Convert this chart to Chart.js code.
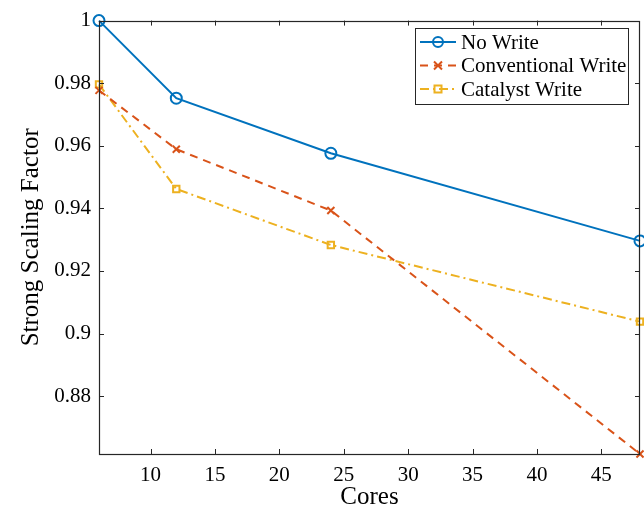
<!DOCTYPE html>
<html>
<head>
<meta charset="utf-8">
<script src="https://cdn.jsdelivr.net/npm/chart.js@4"></script>
<style>
  html, body { margin: 0; padding: 0; background: #fff; }
  #wrap { width: 644px; height: 512px; }
</style>
</head>
<body>
<div id="wrap"><canvas id="chart" width="644" height="512"></canvas></div>
<script>
// values
const cores = [6, 12, 24, 48];
const noWrite = [1.0, 0.9752, 0.9576, 0.9296];
const conventionalWrite = [0.9777, 0.9589, 0.9393, 0.8615];
const catalystWrite = [0.9796, 0.9462, 0.9283, 0.9038];
const xTicks = [10, 15, 20, 25, 30, 35, 40, 45];
const yTicks = [0.88, 0.9, 0.92, 0.94, 0.96, 0.98, 1];

const FONT = "'Liberation Serif', 'DejaVu Serif', serif";
const AXIS = '#262626';

function pts(ys) {
    return cores.map((x, i) => ({ x: x, y: ys[i] }));
}

// axis box with inward ticks on all four sides, MATLAB style
const boxPlugin = {
    id: 'box',
    afterDatasetsDraw(chart) {
        const ctx = chart.ctx;
        const a = chart.chartArea;
        const xs = chart.scales.x, ys = chart.scales.y;
        const len = 5;
        ctx.save();
        ctx.strokeStyle = AXIS;
        ctx.lineWidth = 1;
        ctx.beginPath();
        xs.ticks.forEach((t) => {
            const px = Math.round(xs.getPixelForValue(t.value)) + 0.5;
            ctx.moveTo(px, a.bottom); ctx.lineTo(px, a.bottom - len);
            ctx.moveTo(px, a.top); ctx.lineTo(px, a.top + len);
        });
        ys.ticks.forEach((t) => {
            const py = Math.round(ys.getPixelForValue(t.value)) + 0.5;
            ctx.moveTo(a.left, py); ctx.lineTo(a.left + len, py);
            ctx.moveTo(a.right, py); ctx.lineTo(a.right - len, py);
        });
        ctx.stroke();
        ctx.lineWidth = 1.2;
        ctx.strokeRect(Math.round(a.left) + 0.5, Math.round(a.top) + 0.5,
            Math.round(a.right - a.left) - 1, Math.round(a.bottom - a.top));
        ctx.restore();
    },
};

function drawMarker(ctx, style, x, y) {
    ctx.beginPath();
    if (style === 'circle') {
        ctx.arc(x, y, 5, 0, Math.PI * 2);
    } else if (style === 'rect') {
        ctx.rect(x - 3.5, y - 3.5, 7, 7);
    } else {
        ctx.moveTo(x - 4, y - 4); ctx.lineTo(x + 4, y + 4);
        ctx.moveTo(x + 4, y - 4); ctx.lineTo(x - 4, y + 4);
    }
    ctx.stroke();
}

// legend box drawn from the datasets' own styles
const legendPlugin = {
    id: 'matlabLegend',
    afterDraw(chart) {
        const ctx = chart.ctx;
        const x0 = 415, y0 = 28, w = 213, h = 76;
        ctx.save();
        ctx.fillStyle = '#fff';
        ctx.fillRect(x0, y0, w, h);
        ctx.strokeStyle = AXIS;
        ctx.lineWidth = 1;
        ctx.strokeRect(x0 + 0.5, y0 + 0.5, w, h);
        chart.data.datasets.forEach((ds, i) => {
            const y = y0 + 14 + i * 23.5;
            ctx.strokeStyle = ds.borderColor;
            ctx.lineWidth = 2;
            ctx.setLineDash(ds.borderDash || []);
            ctx.beginPath();
            ctx.moveTo(x0 + 5, y); ctx.lineTo(x0 + 41, y);
            ctx.stroke();
            ctx.setLineDash([]);
            drawMarker(ctx, ds.pointStyle, x0 + 23, y);
            ctx.fillStyle = '#000';
            ctx.font = '21px ' + FONT;
            ctx.textBaseline = 'middle';
            ctx.fillText(ds.label, x0 + 46, y + 1);
        });
        ctx.restore();
    },
};

function fmt(v) {
    return String(parseFloat(v.toFixed(4)));
}

new Chart(document.getElementById('chart'), {
    type: 'line',
    data: {
        datasets: [
            {
                label: 'No Write',
                data: pts(noWrite),
                borderColor: '#0072BD',
                pointStyle: 'circle',
                pointRadius: 5.5,
                pointBorderWidth: 2,
                pointBackgroundColor: 'rgba(0,0,0,0)',
                borderWidth: 2,
            },
            {
                label: 'Conventional Write',
                data: pts(conventionalWrite),
                borderColor: '#D95319',
                borderDash: [8, 6],
                pointStyle: 'crossRot',
                pointRadius: 5,
                pointBorderWidth: 2,
                borderWidth: 2,
            },
            {
                label: 'Catalyst Write',
                data: pts(catalystWrite),
                borderColor: '#EDB120',
                borderDash: [9, 4, 2, 4],
                pointStyle: 'rect',
                pointRadius: 4.5,
                pointBorderWidth: 2,
                pointBackgroundColor: 'rgba(0,0,0,0)',
                borderWidth: 2,
            },
        ],
    },
    options: {
        responsive: false,
        animation: false,
        clip: false,
        layout: { autoPadding: false, padding: { top: 19, right: 4, left: 0, bottom: 0 } },
        elements: { line: { tension: 0 } },
        plugins: {
            legend: { display: false },
            tooltip: { enabled: false },
        },
        scales: {
            x: {
                type: 'linear',
                min: 6,
                max: 48,
                grid: { display: false, drawTicks: false },
                border: { display: false },
                afterBuildTicks: (s) => { s.ticks = xTicks.map((v) => ({ value: v })); },
                afterFit: (s) => { s.height = 58; },
                ticks: {
                    color: '#000',
                    padding: 9,
                    maxRotation: 0,
                    font: { family: FONT, size: 21 },
                    callback: (v) => fmt(v),
                },
                title: {
                    display: true,
                    text: 'Cores',
                    color: '#000',
                    padding: { top: 0, bottom: 0 },
                    font: { family: FONT, size: 25 },
                },
            },
            y: {
                type: 'linear',
                min: 0.8615,
                max: 1,
                grid: { display: false, drawTicks: false },
                border: { display: false },
                afterBuildTicks: (s) => { s.ticks = yTicks.map((v) => ({ value: v })); },
                afterFit: (s) => { s.width = 99; },
                ticks: {
                    color: '#000',
                    padding: 8,
                    font: { family: FONT, size: 21 },
                    callback: (v) => fmt(v),
                },
                title: {
                    display: true,
                    text: 'Strong Scaling Factor',
                    color: '#000',
                    padding: { top: 16, bottom: 6 },
                    font: { family: FONT, size: 25 },
                },
            },
        },
    },
    plugins: [boxPlugin, legendPlugin],
});
</script>
</body>
</html>
